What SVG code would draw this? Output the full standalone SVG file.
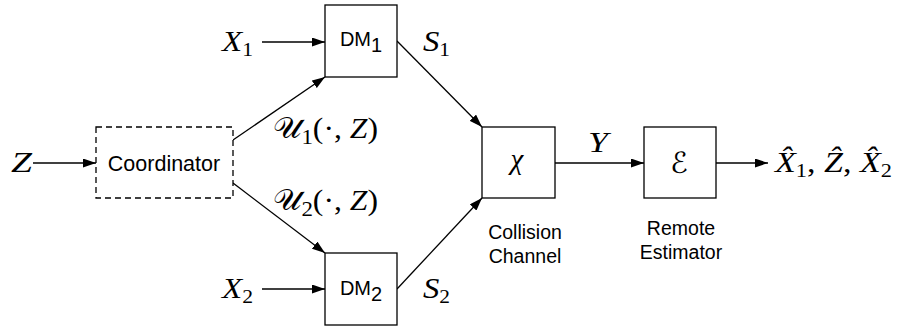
<svg xmlns="http://www.w3.org/2000/svg" width="897" height="326" viewBox="0 0 897 326">
<defs>
<marker id="ah" markerWidth="13" markerHeight="9" refX="13" refY="4.5" orient="auto" markerUnits="userSpaceOnUse"><path d="M0,0 L13,4.5 L0,9 z" fill="#000"/></marker>
</defs>
<style>
.box{fill:#fff;stroke:#000;stroke-width:1.3}
.dash{stroke-dasharray:6 4}
.edge{stroke:#000;stroke-width:1.3;fill:none}
.sans{font-family:"Liberation Sans",Arial,sans-serif;fill:#000}
.math{font-family:"Liberation Serif","DejaVu Serif",serif;font-style:italic;font-size:29px;fill:#000}
.cal{font-family:"DejaVu Serif","DejaVu Sans","Noto Sans",serif;font-style:normal}
.rm{font-style:normal}
</style>
<g id="connectors">
<line class="edge" x1="33" y1="163" x2="96" y2="163" marker-end="url(#ah)"/>
<line class="edge" x1="262" y1="42" x2="325" y2="42" marker-end="url(#ah)"/>
<line class="edge" x1="262" y1="289" x2="325" y2="289" marker-end="url(#ah)"/>
<line class="edge" x1="233" y1="140" x2="325" y2="77" marker-end="url(#ah)"/>
<line class="edge" x1="233" y1="183" x2="325" y2="253" marker-end="url(#ah)"/>
<line class="edge" x1="397" y1="41" x2="482" y2="127" marker-end="url(#ah)"/>
<line class="edge" x1="397" y1="289" x2="482" y2="198" marker-end="url(#ah)"/>
<line class="edge" x1="555" y1="163" x2="644" y2="163" marker-end="url(#ah)"/>
<line class="edge" x1="716" y1="163" x2="768" y2="163" marker-end="url(#ah)"/>
</g>
<g id="coordinator">
<rect class="box dash" x="96" y="127" width="137" height="71"/>
<text class="sans" x="164" y="171" font-size="21.5" text-anchor="middle">Coordinator</text>
</g>
<g id="dm1">
<rect class="box" x="325" y="5" width="72" height="72"/>
<text class="sans" x="361" y="46" font-size="20" text-anchor="middle">DM<tspan dy="6">1</tspan></text>
</g>
<g id="dm2">
<rect class="box" x="325" y="253" width="72" height="72"/>
<text class="sans" x="361" y="295" font-size="20" text-anchor="middle">DM<tspan dy="6">2</tspan></text>
</g>
<g id="channel">
<rect class="box" x="482" y="127" width="73" height="71"/>
<text class="math" x="517" y="169" font-size="36" text-anchor="middle">χ</text>
<text class="sans" x="525" y="239" font-size="19.5" text-anchor="middle">Collision</text>
<text class="sans" x="525" y="263" font-size="19.5" text-anchor="middle">Channel</text>
</g>
<g id="estimator">
<rect class="box" x="644" y="127" width="72" height="71"/>
<text class="math cal" x="679" y="173" font-size="32" text-anchor="middle">ℰ</text>
<text class="sans" x="681" y="235" font-size="19.5" text-anchor="middle">Remote</text>
<text class="sans" x="681" y="259" font-size="19.5" text-anchor="middle">Estimator</text>
</g>
<g id="labels">
<text class="math" x="11" y="172" textLength="21" lengthAdjust="spacingAndGlyphs">Z</text>
<text class="math" x="222" y="51" textLength="31" lengthAdjust="spacingAndGlyphs">X<tspan class="rm" font-size="19" dy="5">1</tspan></text>
<text class="math" x="222" y="298" textLength="31" lengthAdjust="spacingAndGlyphs">X<tspan class="rm" font-size="19" dy="5">2</tspan></text>
<text class="math" x="423" y="51" textLength="27" lengthAdjust="spacingAndGlyphs">S<tspan class="rm" font-size="19" dy="5">1</tspan></text>
<text class="math" x="423" y="298" textLength="27" lengthAdjust="spacingAndGlyphs">S<tspan class="rm" font-size="19" dy="5">2</tspan></text>
<text class="math" x="273" y="138" font-size="32" textLength="105" lengthAdjust="spacingAndGlyphs"><tspan class="cal">𝒰</tspan><tspan class="rm" font-size="21" dy="6">1</tspan><tspan class="rm" dy="-6">(·, </tspan>Z<tspan class="rm">)</tspan></text>
<text class="math" x="273" y="210" font-size="32" textLength="105" lengthAdjust="spacingAndGlyphs"><tspan class="cal">𝒰</tspan><tspan class="rm" font-size="21" dy="6">2</tspan><tspan class="rm" dy="-6">(·, </tspan>Z<tspan class="rm">)</tspan></text>
<text class="math" x="588" y="152" textLength="20" lengthAdjust="spacingAndGlyphs">Y</text>
<text class="math" x="775" y="172" textLength="117" lengthAdjust="spacingAndGlyphs">X̂<tspan class="rm" font-size="19" dy="5">1</tspan><tspan class="rm" dy="-5">, </tspan>Ẑ<tspan class="rm">, </tspan>X̂<tspan class="rm" font-size="19" dy="5">2</tspan></text>
</g>
</svg>
